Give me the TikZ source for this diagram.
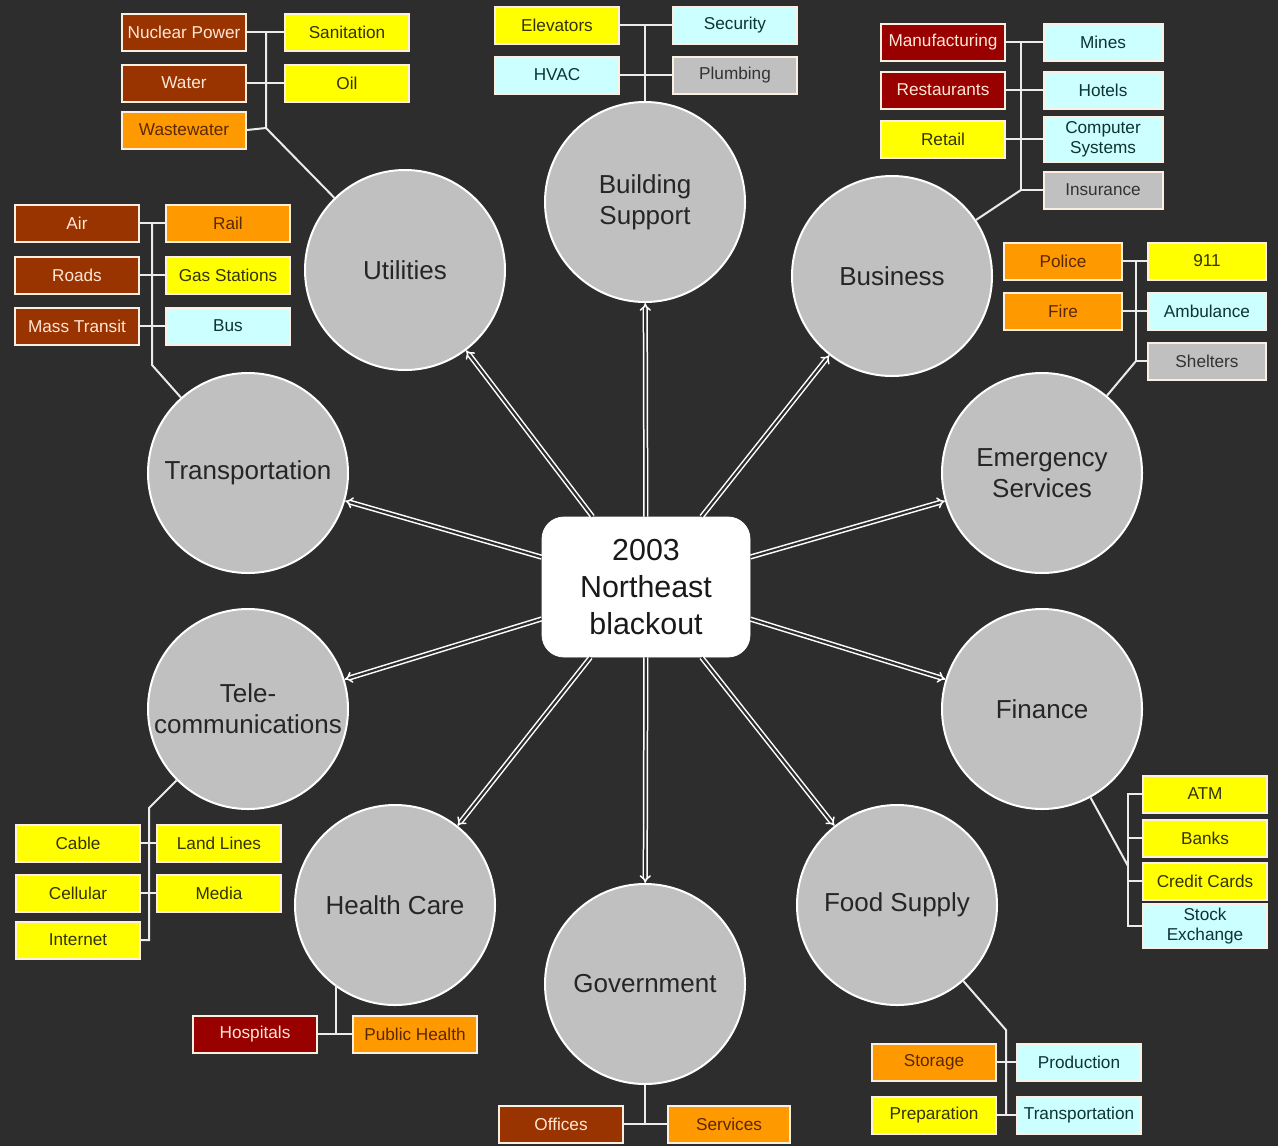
\documentclass[tikz,border=0pt]{standalone}
\usepackage{fontspec}
\setmainfont{Liberation Sans}
\usetikzlibrary{arrows.meta}
\definecolor{bg}{HTML}{2D2D2D}
\definecolor{hubfill}{HTML}{C0C0C0}
\definecolor{boxline}{HTML}{FBEFE2}
\definecolor{crust}{HTML}{993300}
\definecolor{cred}{HTML}{990000}
\definecolor{corange}{HTML}{FF9900}
\definecolor{cyellow}{HTML}{FFFF00}
\definecolor{ccyan}{HTML}{CCFFFF}
\definecolor{cgray}{HTML}{C0C0C0}
\definecolor{tlight}{HTML}{FFE6D5}
\definecolor{tbrown}{HTML}{5A2800}
\definecolor{tolive}{HTML}{333300}
\definecolor{tteal}{HTML}{0E3333}
\definecolor{tdark}{HTML}{333333}
\tikzset{
  box/.style={draw=boxline, line width=1pt, minimum width=62pt, minimum height=18.5pt,
    inner sep=1pt, align=center, font=\fontsize{8.6}{10}\selectfont},
  rust/.style={box, fill=crust, text=tlight},
  dred/.style={box, fill=cred, text=tlight},
  orng/.style={box, fill=corange, text=tbrown},
  yell/.style={box, fill=cyellow, text=tolive},
  cyan/.style={box, fill=ccyan, text=tteal},
  gray/.style={box, fill=cgray, text=tdark},
  hub/.style={circle, draw=white, line width=1pt, fill=hubfill, minimum size=100pt,
    inner sep=0pt, align=center, text=black!85, font=\fontsize{13}{15.5}\selectfont},
  center/.style={draw=white, fill=white, rounded corners=11pt, minimum width=104pt,
    minimum height=70pt, align=center, text=black!90, font=\fontsize{15.2}{18.5}\selectfont},
  conn/.style={draw=white!92!black, line width=1pt},
  arr/.style={draw=white, line width=0.75pt, double=bg, double distance=1.1pt, -{Implies}},
}
\begin{document}
\begin{tikzpicture}[x=0.5pt, y=-0.5pt]
\fill[bg] (0,0) rectangle (1278,1146);
\useasboundingbox (0,0) rectangle (1278,1146);

% hubs
\node[center] (c) at (646,587) {2003\\Northeast\\blackout};
\node[hub] (util) at (405,270) {Utilities};
\node[hub] (bs) at (645,202) {Building\\Support};
\node[hub] (bus) at (892,276) {Business};
\node[hub] (em) at (1042,473) {Emergency\\Services};
\node[hub] (fin) at (1042,709) {Finance};
\node[hub] (food) at (897,905) {Food Supply};
\node[hub] (gov) at (645,984) {Government};
\node[hub] (hc) at (395,905) {Health Care};
\node[hub] (tel) at (248,709) {Tele-\\communications};
\node[hub] (tra) at (248,473) {Transportation};

% arrows
\foreach \h in {util,bs,bus,em,fin,food,gov,hc,tel,tra}
  \draw[arr] (c) -- (\h);

% Utilities
\node[rust] (np) at (184,32) {Nuclear Power};
\node[rust] (water) at (184,83) {Water};
\node[orng] (ww) at (184,130) {Wastewater};
\node[yell] (san) at (347,32) {Sanitation};
\node[yell] (oil) at (347,83) {Oil};
\coordinate (uj) at (266,128);
\draw[conn] (np.east) -- (san.west);
\draw[conn] (water.east) -- (oil.west);
\draw[conn] (np.east -| uj) -- (uj) -- (util);
\draw[conn] (ww.east) -- (uj);

% Building Support
\node[yell] (elev) at (557,25) {Elevators};
\node[cyan] (hvac) at (557,75) {HVAC};
\node[cyan] (sec) at (735,25) {Security};
\node[gray] (plumb) at (735,75) {Plumbing};
\draw[conn] (elev.east) -- (sec.west);
\draw[conn] (hvac.east) -- (plumb.west);
\draw[conn] (elev.east -| bs.north) -- (bs.north);

% Business
\node[dred] (manu) at (943,42) {Manufacturing};
\node[dred] (rest) at (943,90) {Restaurants};
\node[yell] (retail) at (943,139) {Retail};
\node[cyan, minimum width=59.5pt] (mines) at (1103,42) {Mines};
\node[cyan, minimum width=59.5pt] (hotels) at (1103,90) {Hotels};
\node[cyan, minimum width=59.5pt, minimum height=22.5pt] (comp) at (1103,139) {Computer\\Systems};
\node[gray, minimum width=59.5pt] (ins) at (1103,190) {Insurance};
\coordinate (bj) at (1021,190);
\draw[conn] (manu.east) -- (mines.west);
\draw[conn] (rest.east) -- (hotels.west);
\draw[conn] (retail.east) -- (comp.west);
\draw[conn] (manu.east -| bj) -- (bj) -- (ins.west);
\draw[conn] (bj) -- (bus);

% Emergency Services
\node[orng, minimum width=59pt] (pol) at (1063,261) {Police};
\node[orng, minimum width=59pt] (fire) at (1063,311) {Fire};
\node[yell, minimum width=59pt] (n911) at (1207,261) {911};
\node[cyan, minimum width=59pt] (amb) at (1207,311) {Ambulance};
\node[gray, minimum width=59pt] (shel) at (1207,361) {Shelters};
\coordinate (ej) at (1136,361);
\draw[conn] (pol.east) -- (n911.west);
\draw[conn] (fire.east) -- (amb.west);
\draw[conn] (pol.east -| ej) -- (ej) -- (shel.west);
\draw[conn] (ej) -- (em);

% Finance
\node[yell] (atm) at (1205,794) {ATM};
\node[yell] (banks) at (1205,838) {Banks};
\node[yell] (cc) at (1205,881) {Credit Cards};
\node[cyan, minimum height=22pt] (stock) at (1205,926) {Stock\\Exchange};
\coordinate (fj) at (1128,866);
\draw[conn] (atm.west) -- (atm.west -| fj) -- (stock.west -| fj) -- (stock.west);
\draw[conn] (banks.west) -- (banks.west -| fj);
\draw[conn] (cc.west) -- (cc.west -| fj);
\draw[conn] (fin) -- (fj);

% Food Supply
\node[orng] (stor) at (934,1062) {Storage};
\node[yell] (prep) at (934,1115) {Preparation};
\node[cyan] (prod) at (1079,1062) {Production};
\node[cyan] (ftr) at (1079,1115) {Transportation};
\coordinate (foj) at (1006,1030);
\draw[conn] (stor.east) -- (prod.west);
\draw[conn] (prep.east) -- (ftr.west);
\draw[conn] (food) -- (foj) -- (foj |- prep.east);

% Government
\node[rust] (off) at (561,1124) {Offices};
\node[orng, minimum width=61pt] (serv) at (729,1124) {Services};
\draw[conn] (off.east) -- (serv.west);
\draw[conn] (gov.south) -- (gov.south |- off.east);

% Health Care
\node[dred] (hosp) at (255,1034) {Hospitals};
\node[orng] (ph) at (415,1034) {Public Health};
\coordinate (hj) at (336,985);
\draw[conn] (hosp.east) -- (ph.west);
\draw[conn] (hj) -- (hj |- hosp.east);

% Telecommunications
\node[yell] (cable) at (78,843) {Cable};
\node[yell] (cell) at (78,893) {Cellular};
\node[yell] (inet) at (78,940) {Internet};
\node[yell] (land) at (219,843) {Land Lines};
\node[yell] (media) at (219,893) {Media};
\coordinate (tj) at (149,808);
\draw[conn] (cable.east) -- (land.west);
\draw[conn] (cell.east) -- (media.west);
\draw[conn] (tel) -- (tj) -- (tj |- inet.east) -- (inet.east);

% Transportation
\node[rust] (air) at (77,223) {Air};
\node[rust] (roads) at (77,275) {Roads};
\node[rust] (mass) at (77,326) {Mass Transit};
\node[orng] (rail) at (228,223) {Rail};
\node[yell] (gas) at (228,275) {Gas Stations};
\node[cyan] (busn) at (228,326) {Bus};
\coordinate (trj) at (152,365);
\draw[conn] (air.east) -- (rail.west);
\draw[conn] (roads.east) -- (gas.west);
\draw[conn] (mass.east) -- (busn.west);
\draw[conn] (air.east -| trj) -- (trj) -- (tra);
\end{tikzpicture}
\end{document}
